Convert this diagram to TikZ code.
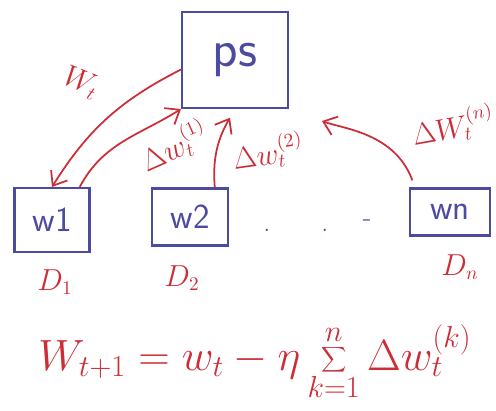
\documentclass[tikz,border=0pt]{standalone}
\usetikzlibrary{arrows.meta}
\definecolor{penred}{RGB}{205,45,55}
\definecolor{penblue}{RGB}{75,75,160}
\begin{document}
\begin{tikzpicture}[scale=0.2]
    \tikzstyle{every node}+=[inner sep=0pt]
    \tikzstyle{box}=[draw=penblue, line width=1.2pt, text=penblue, font=\fontsize{20}{20}\sffamily]
    \tikzstyle{push}=[penred, line width=1pt, -{Straight Barb[length=7pt,width=11pt]}]
    \tikzstyle{lbl}=[text=penred, font=\fontsize{16}{16}\selectfont]
    \useasboundingbox (0,0) rectangle (49.6,-41);
    \node [box, minimum width=2.12cm, minimum height=1.92cm, font=\fontsize{30}{30}\sffamily] (ps) at (23.5,-6) {ps};
    \node [box, minimum width=1.5cm, minimum height=1.28cm] (w1) at (5.2,-22) {w1};
    \node [box, minimum width=1.52cm, minimum height=1.14cm] (w2) at (19,-21.7) {w2};
    \node [box, minimum width=1.6cm, minimum height=0.94cm] (wn) at (45,-21.2) {wn};
    \node [lbl, text=penblue] (dota) at (26.7,-23) {.};
    \node [lbl, text=penblue] (dotb) at (32.5,-23) {.};
    \node [lbl, text=penblue] (dash) at (36.7,-22.3) {-};
    \draw [push] (ps.190) to [out=207, in=58] (w1.north);
    \draw [push] (w1.50) to [out=62, in=212] (ps.south west);
    \draw [push, shorten >=2mm] (w2.50) to [out=95, in=240] (ps.south);
    \draw [push, shorten <=1.5mm, shorten >=7mm] (wn.145) to [out=110, in=-20] (ps.south east);
    \node [lbl, rotate=-22] (lwt) at (8.1,-8.3) {$W_t$};
    \node [lbl, rotate=24] (lw1) at (17.4,-14.6) {$\Delta w_t^{(1)}$};
    \node [lbl, rotate=8] (lw2) at (26.8,-15.2) {$\Delta w_t^{(2)}$};
    \node [lbl, rotate=10] (lwn) at (45.3,-12.6) {$\Delta W_t^{(n)}$};
    \node [lbl] (d1) at (5.5,-28.2) {$D_1$};
    \node [lbl] (d2) at (18.2,-27.8) {$D_2$};
    \node [lbl] (dn) at (46,-26.7) {$D_n$};
    \node [lbl, font=\fontsize{25}{25}\selectfont] (rule) at (25.5,-36.2)
        {$W_{t+1} = w_t - \eta \displaystyle\sum_{k=1}^{n} \Delta w_t^{(k)}$};
\end{tikzpicture}
\end{document}
